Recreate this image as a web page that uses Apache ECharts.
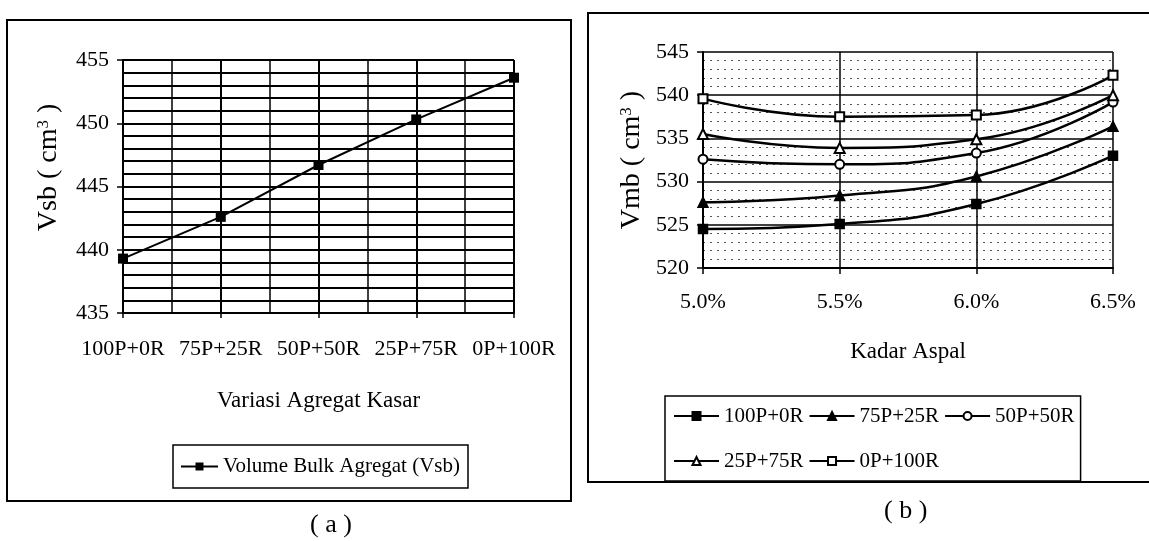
<!DOCTYPE html>
<html>
<head>
<meta charset="utf-8">
<script src="https://cdn.jsdelivr.net/npm/echarts@6/dist/echarts.min.js"></script>
<style>
html,body{margin:0;padding:0;background:#fff;}
#c{width:1149px;height:541px;}
</style>
</head>
<body>
<div id="c"></div>
<script>
// ---- data (a) ----
const variasiCategories = ['100P+0R', '75P+25R', '50P+50R', '25P+75R', '0P+100R'];
const vsbValues = [439.3, 442.6, 446.7, 450.3, 453.6];
const vsbName = 'Volume Bulk Agregat (Vsb)';

// ---- data (b) ----
const kadarAspal = ['5.0%', '5.5%', '6.0%', '6.5%'];
const seriesNames = ['100P+0R', '75P+25R', '50P+50R', '25P+75R', '0P+100R'];
const vmb100P0R = [524.5, 525.1, 527.4, 533.0];
const vmb75P25R = [527.6, 528.4, 530.6, 536.4];
const vmb50P50R = [532.6, 532.0, 533.3, 539.2];
const vmb25P75R = [535.5, 533.9, 534.9, 540.0];
const vmb0P100R = [539.6, 537.5, 537.7, 542.3];

const FONT = 'Liberation Serif';
const chart = echarts.init(document.getElementById('c'), null, {renderer: 'canvas'});

const vmbSeries = [vmb100P0R, vmb75P25R, vmb50P50R, vmb25P75R, vmb0P100R];
const symbols = ['rect', 'triangle', 'emptyCircle', 'emptyTriangle', 'emptyRect'];
const symSizes = [9, 10, 9, 10, 9];

const rightSeries = vmbSeries.map((vals, i) => ({
  name: seriesNames[i],
  type: 'line',
  xAxisIndex: 1, yAxisIndex: 1,
  data: vals,
  smooth: 0.5,
  symbol: symbols[i],
  symbolSize: symSizes[i],
  showAllSymbol: true,
  itemStyle: {color: '#000', borderColor: '#000', borderWidth: 1.5},
  lineStyle: {color: '#000', width: 2.5},
  emphasis: {disabled: true},
  z: 5
}));

const axisText = {fontFamily: FONT, fontSize: 22, color: '#000'};
const nameRich = {
  sup: {fontFamily: FONT, fontSize: 17, color: '#000', verticalAlign: 'top', padding: [0, 0, 10, 0]}
};

const option = {
  backgroundColor: '#fff',
  animation: false,
  textStyle: {fontFamily: FONT, color: '#000'},
  grid: [
    {left: 123, top: 60, width: 391, height: 253, containLabel: false},
    {left: 703, top: 52, width: 410, height: 216, containLabel: false}
  ],
  legend: [
    {
      data: [vsbName],
      left: 173, top: 445,
      padding: [11, 8, 11, 7],
      borderColor: '#000', borderWidth: 1.5, borderRadius: 0,
      itemWidth: 37, itemHeight: 10,
      itemGap: 5,
      textStyle: {fontFamily: FONT, fontSize: 21, color: '#000'},
      selectedMode: false
    },
    {
      data: seriesNames,
      left: 665, top: 396,
      width: 410,
      padding: [0, 6, 0, 8],
      borderColor: '#000', borderWidth: 1.5, borderRadius: 0,
      itemWidth: 45, itemHeight: 10,
      itemGap: 5,
      textStyle: {fontFamily: FONT, fontSize: 21, color: '#000', lineHeight: 40},
      selectedMode: false
    }
  ],
  xAxis: [
    {
      gridIndex: 0, type: 'value', min: 0, max: 4, interval: 1,
      name: 'Variasi Agregat Kasar', nameLocation: 'middle', nameGap: 76,
      nameTextStyle: {fontFamily: FONT, fontSize: 23, color: '#000'},
      axisLine: {show: true, lineStyle: {color: '#000', width: 2}},
      axisTick: {show: true, length: 5, lineStyle: {color: '#000', width: 1.5}},
      minorTick: {show: false, splitNumber: 2},
      axisLabel: Object.assign({margin: 25, formatter: v => variasiCategories[v] || ''}, axisText),
      splitLine: {show: true, lineStyle: {color: '#000', width: 2}},
      minorSplitLine: {show: true, lineStyle: {color: '#000', width: 1.5}}
    },
    {
      gridIndex: 1, type: 'category', data: kadarAspal, boundaryGap: false,
      name: 'Kadar Aspal', nameLocation: 'middle', nameGap: 72,
      nameTextStyle: {fontFamily: FONT, fontSize: 23, color: '#000'},
      axisLine: {show: true, lineStyle: {color: '#000', width: 2}},
      axisTick: {show: true, length: 6, lineStyle: {color: '#000', width: 1.5}},
      axisLabel: Object.assign({margin: 23}, axisText),
      splitLine: {show: true, lineStyle: {color: '#000', width: 1.5}}
    }
  ],
  yAxis: [
    {
      gridIndex: 0, type: 'value', min: 435, max: 455, interval: 5,
      name: 'Vsb ( cm{sup|3} )', nameLocation: 'middle', nameGap: 60, nameRotate: 90,
      nameTextStyle: {fontFamily: FONT, fontSize: 28, color: '#000', padding: [0, 0, 0, 38], rich: nameRich},
      axisLine: {show: true, lineStyle: {color: '#000', width: 2}},
      axisTick: {show: true, length: 6, lineStyle: {color: '#000', width: 1.5}},
      minorTick: {show: false, splitNumber: 5},
      axisLabel: Object.assign({margin: 14}, axisText),
      splitLine: {show: true, lineStyle: {color: '#000', width: 2}},
      minorSplitLine: {show: true, lineStyle: {color: '#000', width: 1.8}}
    },
    {
      gridIndex: 1, type: 'value', min: 520, max: 545, interval: 5,
      name: 'Vmb ( cm{sup|3} )', nameLocation: 'middle', nameGap: 57, nameRotate: 90,
      nameTextStyle: {fontFamily: FONT, fontSize: 28, color: '#000', rich: nameRich},
      axisLine: {show: true, lineStyle: {color: '#000', width: 2}},
      axisTick: {show: true, length: 6, lineStyle: {color: '#000', width: 1.5}},
      minorTick: {show: false, splitNumber: 5},
      axisLabel: Object.assign({margin: 14}, axisText),
      splitLine: {show: true, lineStyle: {color: '#000', width: 1.5}},
      minorSplitLine: {show: true, lineStyle: {color: '#555', width: 1, type: [2, 5]}}
    }
  ],
  series: [
    {
      name: vsbName, type: 'line', xAxisIndex: 0, yAxisIndex: 0,
      data: vsbValues.map((v, i) => [i, v]),
      symbol: 'rect', symbolSize: 10,
      itemStyle: {color: '#000'},
      lineStyle: {color: '#000', width: 2},
      emphasis: {disabled: true},
      z: 5
    }
  ].concat(rightSeries),
  graphic: [
    {type: 'rect', shape: {x: 7, y: 20, width: 564, height: 481}, style: {fill: 'none', stroke: '#000', lineWidth: 2}, silent: true},
    {type: 'rect', shape: {x: 588, y: 13, width: 620, height: 469}, style: {fill: 'none', stroke: '#000', lineWidth: 2}, silent: true},
    {type: 'text', left: 310, top: 512, style: {text: '( a )', font: '26px "Liberation Serif"', fill: '#000'}, silent: true},
    {type: 'text', left: 884, top: 498, style: {text: '( b )', font: '26px "Liberation Serif"', fill: '#000'}, silent: true}
  ]
};
chart.setOption(option);
</script>
</body>
</html>
